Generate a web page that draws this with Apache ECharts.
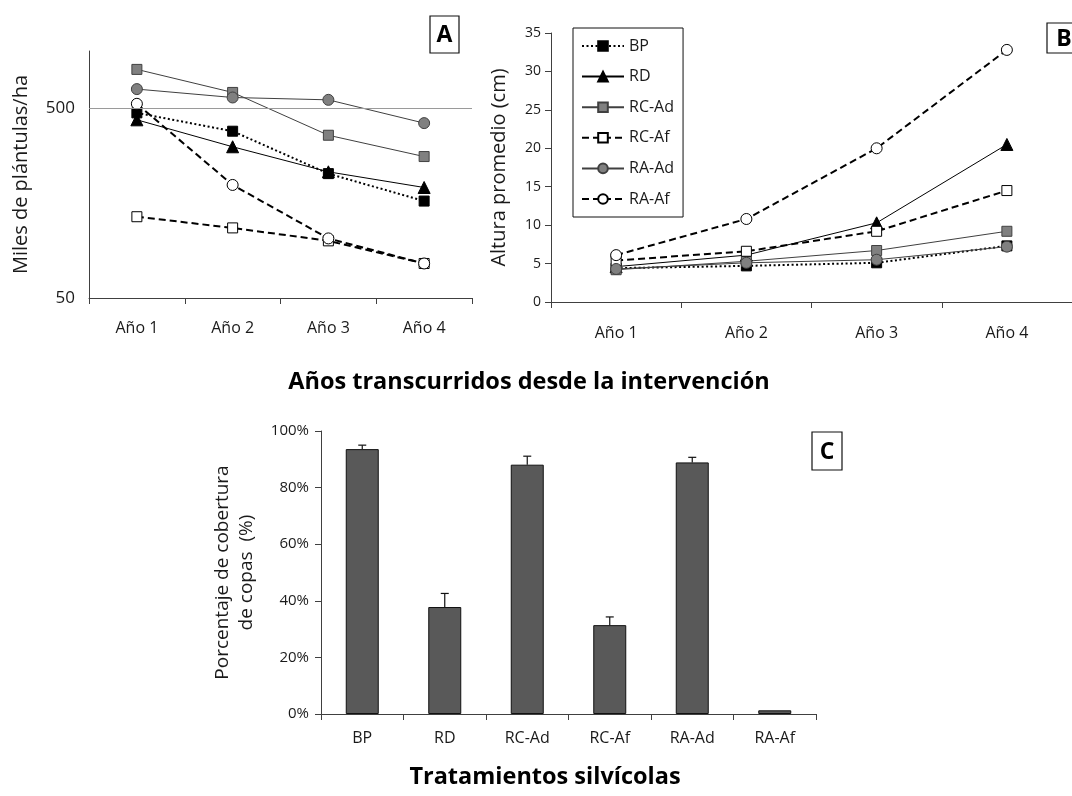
<!DOCTYPE html>
<html><head><meta charset="utf-8">
<script src="https://cdn.jsdelivr.net/npm/echarts@6/dist/echarts.min.js"></script>
<style>html,body{margin:0;padding:0;background:#fff}#c{width:1072px;height:796px}</style>
</head><body><div id="c"></div>
<script>
// ---------- DATA ----------
const years = ['Año 1', 'Año 2', 'Año 3', 'Año 4'];
const treatments = ['BP', 'RD', 'RC-Ad', 'RC-Af', 'RA-Ad', 'RA-Af'];

// Panel A: Miles de plántulas/ha (log scale)
const densityBP   = [472, 378, 226, 162];
const densityRD   = [434, 313, 231, 191];
const densityRCAd = [800, 605, 360, 278];
const densityRCAf = [134, 117, 100, 76];
const densityRAAd = [630, 569, 553, 417];
const densityRAAf = [527, 197, 103, 76];
const densityTicks = [50, 500];

// Panel B: Altura promedio (cm)
const heightBP   = [4.4, 4.7, 5.1, 7.3];
const heightRD   = [4.6, 6.1, 10.3, 20.5];
const heightRCAd = [4.2, 5.3, 6.7, 9.2];
const heightRCAf = [5.4, 6.6, 9.2, 14.5];
const heightRAAd = [4.3, 5.1, 5.5, 7.2];
const heightRAAf = [6.1, 10.8, 20.0, 32.8];

// Panel C: Porcentaje de cobertura de copas (%)
const coverage    = [93.6, 37.8, 88.1, 31.4, 88.9, 1.3];
const coverageErr = [1.4, 4.8, 3.0, 2.9, 1.8, 0];

// ---------- STYLES ----------
const FONT = '"Open Sans", Lato, sans-serif';
const TXT = '#1a1a1a';
const AX = '#404040';
const styles = {
  'BP':    {symbol: 'rect',     size: 10, fill: '#000',    border: '#000',    line: '#000',    type: [2, 2.5], width: 2},
  'RD':    {symbol: 'triangle', size: 12, fill: '#000',    border: '#000',    line: '#000',    type: 'solid',  width: 1},
  'RC-Ad': {symbol: 'rect',     size: 10, fill: '#808080', border: '#404040', line: '#404040', type: 'solid',  width: 1},
  'RC-Af': {symbol: 'rect',     size: 10, fill: '#fff',    border: '#000',    line: '#000',    type: [7, 4],   width: 2},
  'RA-Ad': {symbol: 'circle',   size: 11, fill: '#808080', border: '#404040', line: '#404040', type: 'solid',  width: 1},
  'RA-Af': {symbol: 'circle',   size: 11, fill: '#fff',    border: '#000',    line: '#000',    type: [7, 4],   width: 2}
};
const densitySets = {'BP': densityBP, 'RD': densityRD, 'RC-Ad': densityRCAd, 'RC-Af': densityRCAf, 'RA-Ad': densityRAAd, 'RA-Af': densityRAAf};
const heightSets  = {'BP': heightBP,  'RD': heightRD,  'RC-Ad': heightRCAd,  'RC-Af': heightRCAf,  'RA-Ad': heightRAAd,  'RA-Af': heightRAAf};

function lineSeries(name, data, axisIdx) {
  const s = styles[name];
  return {
    name, type: 'line', data, xAxisIndex: axisIdx, yAxisIndex: axisIdx,
    symbol: s.symbol, symbolSize: s.size, showSymbol: true,
    lineStyle: {color: s.line, width: s.width, type: s.type},
    itemStyle: {color: s.fill, borderColor: s.border, borderWidth: 1},
    emphasis: {disabled: true}, silent: true, z: 3
  };
}

const series = [];
treatments.forEach(t => series.push(lineSeries(t, densitySets[t], 0)));
// 50 / 500 reference labels + 500 horizontal line on the log axis
series[0].markLine = {
  silent: true, symbol: 'none', animation: false,
  data: densityTicks.map(v => ({
    yAxis: v,
    lineStyle: v === 500 ? {color: '#9a9a9a', width: 1, type: 'solid'}
                         : {color: 'rgba(0,0,0,0)', width: 1, type: 'solid'},
    label: {show: true, position: 'start', distance: 14, formatter: String(v),
            fontSize: 17, fontFamily: FONT, color: TXT, opacity: 1}
  }))
};
treatments.forEach(t => series.push(lineSeries(t, heightSets[t], 1)));

series.push({
  name: 'cobertura', type: 'bar', xAxisIndex: 2, yAxisIndex: 2, data: coverage,
  barWidth: 33, itemStyle: {color: '#595959', borderColor: '#111', borderWidth: 1},
  silent: true
});
series.push({
  name: 'error', type: 'custom', xAxisIndex: 2, yAxisIndex: 2, silent: true, z: 5,
  data: coverage.map((v, i) => [i, v, v + coverageErr[i]]),
  renderItem: function (params, api) {
    if (api.value(2) <= api.value(1)) return null;
    const base = api.coord([api.value(0), api.value(1)]);
    const top = api.coord([api.value(0), api.value(2)]);
    const st = {stroke: '#111', lineWidth: 1.2};
    return {type: 'group', children: [
      {type: 'line', shape: {x1: base[0], y1: base[1], x2: top[0], y2: top[1]}, style: st},
      {type: 'line', shape: {x1: top[0] - 4, y1: top[1], x2: top[0] + 4, y2: top[1]}, style: st}
    ]};
  }
});

const axisLine = {show: true, lineStyle: {color: AX, width: 1}};
const axisTick = {show: true, length: 6, lineStyle: {color: AX}};

function labelBox(letter, x, y, w, h) {
  return {type: 'group', x, y, children: [
    {type: 'rect', shape: {x: 0, y: 0, width: w, height: h}, style: {fill: '#fff', stroke: '#111', lineWidth: 1.2}},
    {type: 'text', x: w / 2, y: h / 2 + 1, style: {text: letter, align: 'center', verticalAlign: 'middle',
      font: 'bold 23px ' + FONT, fill: '#000'}}
  ]};
}

const option = {
  animation: false,
  backgroundColor: '#fff',
  textStyle: {fontFamily: FONT},
  grid: [
    {left: 89, top: 51, width: 383, height: 247},
    {left: 551, top: 33, width: 528, height: 269},
    {left: 321, top: 431, width: 495, height: 283}
  ],
  legend: {
    orient: 'vertical', left: 573, top: 28, selectedMode: false,
    data: treatments,
    itemWidth: 42, itemHeight: 12, itemGap: 14.6,
    padding: [10, 9, 10, 8],
    borderColor: '#111', borderWidth: 1,
    textStyle: {fontSize: 16, fontFamily: FONT, color: TXT}
  },
  xAxis: [
    {type: 'category', gridIndex: 0, data: years, boundaryGap: true, axisLine, axisTick,
     axisLabel: {fontSize: 16, color: TXT, margin: 22, fontFamily: FONT}},
    {type: 'category', gridIndex: 1, data: years, boundaryGap: true, axisLine, axisTick,
     axisLabel: {fontSize: 16, color: TXT, margin: 23, fontFamily: FONT}},
    {type: 'category', gridIndex: 2, data: treatments, boundaryGap: true, axisLine, axisTick,
     axisLabel: {fontSize: 16, color: TXT, margin: 16, fontFamily: FONT}}
  ],
  yAxis: [
    {type: 'log', gridIndex: 0, logBase: 10, min: 50, max: 1000,
     axisLine, axisTick: {show: false}, axisLabel: {show: false}, splitLine: {show: false},
     name: 'Miles de plántulas/ha', nameLocation: 'middle', nameGap: 58,
     nameTextStyle: {fontSize: 20, color: TXT, fontFamily: FONT}},
    {type: 'value', gridIndex: 1, min: 0, max: 35, interval: 5,
     axisLine, axisTick, splitLine: {show: false},
     axisLabel: {fontSize: 14, color: TXT, margin: 10, fontFamily: FONT},
     name: 'Altura promedio (cm)', nameLocation: 'middle', nameGap: 42,
     nameTextStyle: {fontSize: 20, color: TXT, fontFamily: FONT}},
    {type: 'value', gridIndex: 2, min: 0, max: 100, interval: 20,
     axisLine, axisTick, splitLine: {show: false},
     axisLabel: {fontSize: 15, color: TXT, margin: 12, formatter: '{value}%', fontFamily: FONT},
     name: 'Porcentaje de cobertura\nde copas  (%)', nameLocation: 'middle', nameGap: 62,
     nameTextStyle: {fontSize: 19, lineHeight: 24, color: TXT, fontFamily: FONT}}
  ],
  graphic: [
    {type: 'text', x: 529, y: 382, style: {text: 'Años transcurridos desde la intervención',
      align: 'center', verticalAlign: 'middle', font: 'bold 23.5px ' + FONT, fill: '#000'}},
    {type: 'text', x: 545, y: 777, style: {text: 'Tratamientos silvícolas',
      align: 'center', verticalAlign: 'middle', font: 'bold 23.5px ' + FONT, fill: '#000'}},
    labelBox('A', 430, 16, 29, 37),
    labelBox('B', 1047, 23, 34, 30),
    labelBox('C', 812, 432, 30, 38)
  ],
  series
};

const chart = echarts.init(document.getElementById('c'), null, {renderer: 'canvas'});
chart.setOption(option);
</script>
</body></html>
